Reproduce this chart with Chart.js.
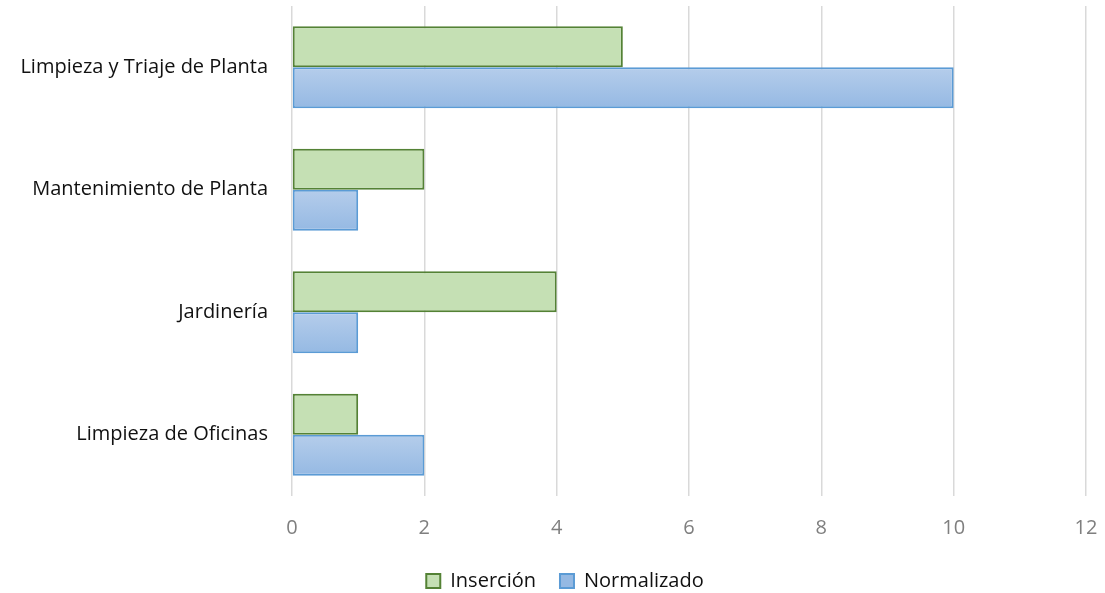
<!DOCTYPE html>
<html>
<head>
<meta charset="utf-8">
<script src="https://cdn.jsdelivr.net/npm/chart.js@4.4.1/dist/chart.umd.min.js"></script>
<style>
  html, body { margin: 0; padding: 0; background: #fff; }
  #wrap { width: 1105px; height: 593px; }
</style>
</head>
<body>
<div id="wrap"><canvas id="chart" width="1105" height="593"></canvas></div>
<script>
// data
const categories = ['Limpieza y Triaje de Planta', 'Mantenimiento de Planta', 'Jardinería', 'Limpieza de Oficinas'];
const insercion = [5, 2, 4, 1];
const normalizado = [10, 1, 1, 2];
const xTicks = [0, 2, 4, 6, 8, 10, 12];

const FONT = '"Open Sans", sans-serif';
const CAT_PCT = 0.668;

// each blue bar gets its own top-to-bottom gradient, worked out from the y scale
function blueGradient(ctx) {
    const chart = ctx.chart;
    const y = chart.scales.y;
    if (!y || !chart.chartArea || ctx.dataIndex === undefined) return '#a9c6ea';
    const center = y.getPixelForValue(ctx.dataIndex);
    const thick = (y.height / categories.length) * CAT_PCT / 2;
    const g = chart.ctx.createLinearGradient(0, center, 0, center + thick);
    g.addColorStop(0, '#b5cdeb');
    g.addColorStop(1, '#95b9e3');
    return g;
}

// legend sits a little right of the canvas centre
const legendShift = {
    id: 'legendShift',
    beforeDraw(chart) {
        const lg = chart.legend;
        if (!lg || lg._shifted === lg.top + ':' + lg.width) return;
        lg.left += 22;
        lg.right += 22;
        lg._shifted = lg.top + ':' + lg.width;
    }
};

new Chart(document.getElementById('chart'), {
    type: 'bar',
    data: {
        labels: categories,
        datasets: [{
            label: 'Inserción',
            data: insercion,
            backgroundColor: '#c5e0b4',
            borderColor: '#548235',
            borderWidth: 2,
            borderSkipped: false
        }, {
            label: 'Normalizado',
            data: normalizado,
            backgroundColor: blueGradient,
            borderColor: '#5b9bd5',
            borderWidth: 2,
            borderSkipped: false
        }]
    },
    options: {
        indexAxis: 'y',
        responsive: false,
        animation: false,
        categoryPercentage: CAT_PCT,
        barPercentage: 1,
        layout: { padding: { top: 6, right: 19, left: 0, bottom: -8 } },
        scales: {
            x: {
                min: 0,
                max: 12,
                afterBuildTicks: scale => { scale.ticks = xTicks.map(v => ({ value: v })); },
                afterFit: scale => {
                    scale.height = 51;
                    scale.paddingLeft = 0;
                    scale.paddingRight = 0;
                },
                grid: { color: '#d9d9d9', lineWidth: 1.5, drawTicks: false },
                border: { display: false },
                ticks: {
                    padding: 20,
                    color: '#7f7f7f',
                    font: { family: FONT, size: 20 }
                }
            },
            y: {
                afterFit: scale => {
                    scale.width = 292;
                    scale.paddingTop = 0;
                    scale.paddingBottom = 0;
                },
                grid: { display: false, drawTicks: false },
                border: { display: false },
                ticks: {
                    padding: 24,
                    color: '#111111',
                    font: { family: FONT, size: 20 }
                }
            }
        },
        plugins: {
            legend: {
                position: 'bottom',
                labels: {
                    boxWidth: 14,
                    boxHeight: 14,
                    padding: 24,
                    color: '#111111',
                    font: { family: FONT, size: 20 }
                }
            },
            tooltip: { enabled: false }
        }
    },
    plugins: [legendShift]
});
</script>
</body>
</html>
